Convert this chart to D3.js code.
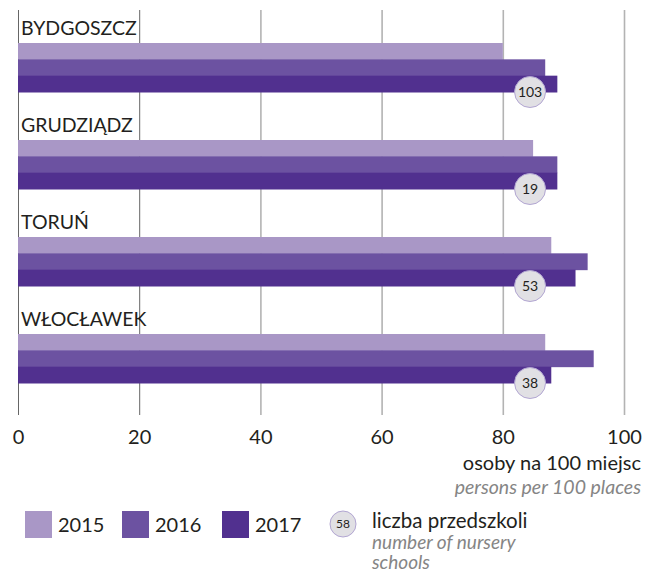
<!DOCTYPE html>
<html>
<head>
<meta charset="utf-8">
<script src="https://cdn.jsdelivr.net/npm/d3@7"></script>
<style>
  body { margin: 0; background: #fff; }
  text { font-family: Lato, "Open Sans", sans-serif; fill: #231f20; }
</style>
</head>
<body>
<svg width="645" height="573"></svg>
<script>
var cities = ["BYDGOSZCZ", "GRUDZIĄDZ", "TORUŃ", "WŁOCŁAWEK"];
var years = ["2015", "2016", "2017"];
var values2015 = [80, 85, 88, 87];
var values2016 = [87, 89, 94, 95];
var values2017 = [89, 89, 92, 88];
var schools = [103, 19, 53, 38];
var xTicks = [0, 20, 40, 60, 80, 100];
var colors = ["#a997c6", "#6c52a1", "#51308f"];

var series = [values2015, values2016, values2017];

var svg = d3.select("svg"),
    margin = {top: 10, left: 18, right: 21},
    width = 645 - margin.left - margin.right,
    height = 405;

var g = svg.append("g").attr("transform", "translate(" + margin.left + "," + margin.top + ")");

var x = d3.scaleLinear().domain([0, 100]).range([0, width]);

var y = d3.scaleBand().domain(cities).range([0, 97 * 4]);
var yy = d3.scaleBand().domain(years).range([33, 82]);

// gridlines + tick labels
var axis = g.append("g")
    .attr("class", "axis")
    .attr("transform", "translate(0," + height + ")")
    .call(d3.axisBottom(x).tickValues(xTicks).tickSize(height).tickSizeOuter(0));
axis.select(".domain").remove();
axis.selectAll(".tick line")
    .attr("transform", "translate(0," + (-height) + ")")
    .attr("stroke", function(d) { return d <= 20 ? "#666" : "#b3b3b3"; })
    .attr("stroke-width", function(d) { return d <= 20 ? 1 : 1.6; });
axis.selectAll(".tick text")
    .attr("y", 0)
    .attr("dy", "29px")
    .style("font-size", "20px")
    .style("font-family", "Lato, sans-serif")
    .attr("fill", "#231f20");

// groups
var group = g.selectAll(".city")
  .data(cities)
  .enter().append("g")
    .attr("class", "city")
    .attr("transform", function(d) { return "translate(0," + y(d) + ")"; });

group.append("text")
    .attr("x", 3)
    .attr("y", 25)
    .style("font-size", "19.5px")
    .text(function(d) { return d; });

group.selectAll("rect")
  .data(function(d, i) { return years.map(function(yr, j) { return {year: yr, value: series[j][i]}; }); })
  .enter().append("rect")
    .attr("x", 0)
    .attr("y", function(d) { return yy(d.year); })
    .attr("height", yy.bandwidth() + 0.5)
    .attr("width", function(d) { return x(d.value); })
    .attr("fill", function(d, j) { return colors[j]; });

var badge = group.append("g")
    .attr("transform", function(d, i) { return "translate(" + x(84.5) + "," + (yy("2017") + yy.bandwidth()) + ")"; });
badge.append("circle")
    .attr("r", 15.5)
    .attr("fill", "#e1e0e4")
    .attr("stroke", "#b2a6d2")
    .attr("stroke-width", 1);
badge.append("text")
    .attr("text-anchor", "middle")
    .attr("dy", "0.36em")
    .style("font-size", "14px")
    .text(function(d, i) { return schools[i]; });

// axis unit labels
svg.append("text")
    .attr("x", 641).attr("y", 470)
    .attr("text-anchor", "end")
    .style("font-size", "20px")
    .text("osoby na 100 miejsc");
svg.append("text")
    .attr("x", 641).attr("y", 494)
    .attr("text-anchor", "end")
    .style("font-size", "19.5px")
    .style("font-style", "italic")
    .style("fill", "#858585")
    .text("persons per 100 places");

// legend
var legendX = [25, 122, 222];
var legend = svg.selectAll(".legend")
  .data(years)
  .enter().append("g")
    .attr("class", "legend")
    .attr("transform", function(d, i) { return "translate(" + legendX[i] + ",511)"; });
legend.append("rect")
    .attr("width", 27).attr("height", 27)
    .attr("fill", function(d, i) { return colors[i]; });
legend.append("text")
    .attr("x", 33).attr("y", 21)
    .style("font-size", "20px")
    .text(function(d) { return d; });

var key = svg.append("g").attr("transform", "translate(343,524)");
key.append("circle")
    .attr("r", 13)
    .attr("fill", "#e1e0e4")
    .attr("stroke", "#b2a6d2");
key.append("text")
    .attr("text-anchor", "middle")
    .attr("dy", "0.36em")
    .style("font-size", "12px")
    .text("58");

svg.append("text")
    .attr("x", 372).attr("y", 528)
    .style("font-size", "20.5px")
    .text("liczba przedszkoli");
svg.append("text")
    .attr("x", 372).attr("y", 549)
    .style("font-size", "19px")
    .style("font-style", "italic")
    .style("fill", "#858585")
    .text("number of nursery");
svg.append("text")
    .attr("x", 372).attr("y", 569)
    .style("font-size", "19px")
    .style("font-style", "italic")
    .style("fill", "#858585")
    .text("schools");
</script>
</body>
</html>
